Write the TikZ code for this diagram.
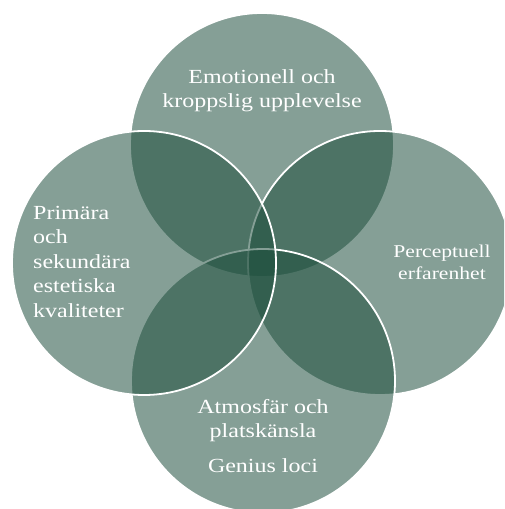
\documentclass[tikz,border=0pt]{standalone}
\usepackage{fontspec}
\setmainfont{Liberation Serif}[FakeStretch=1.2]
\definecolor{vennfill}{RGB}{30,79,61}
\begin{document}
\begin{tikzpicture}[x=1pt, y=1pt, venn/.style={circle, minimum size=264pt, inner sep=0pt, fill=vennfill, fill opacity=0.54, draw=white, line width=1.8pt}, lbl/.style={text=white, inner sep=0pt, font=\fontsize{20}{24.5}\selectfont}]

\fill[white, use as bounding box] (0,0) rectangle (504,509);
\clip (0,0) rectangle (504,509);

\node[venn] (top) at (262,364) {};
\node[venn] (right) at (380,246) {};
\node[venn] (bottom) at (263,128) {};
\node[venn] (left) at (144,246) {};

\node[lbl, anchor=north, align=center] (toptext) at (262,440) {Emotionell och\\kroppslig upplevelse};
\node[lbl, anchor=north west, align=left] (lefttext) at (33,303) {Primära\\och\\sekundära\\estetiska\\kvaliteter};
\node[lbl, anchor=north, align=center, font=\fontsize{18}{22}\selectfont] (righttext) at (442,264) {Perceptuell\\erfarenhet};
\node[lbl, anchor=north, align=center] (bottomtext) at (263,110) {Atmosfär och\\platskänsla\\[10pt]Genius loci};

\end{tikzpicture}
\end{document}
